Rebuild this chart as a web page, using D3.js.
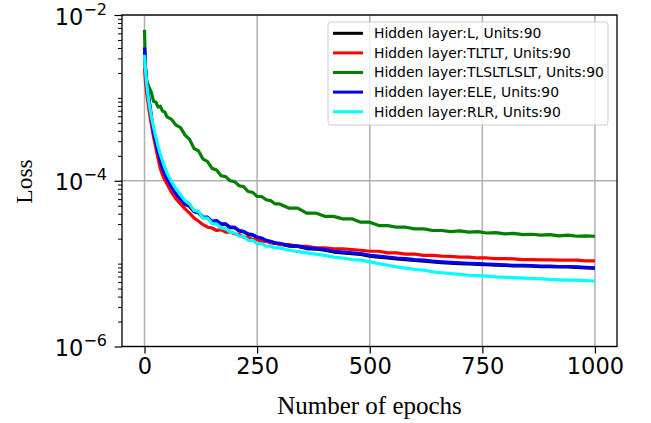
<!DOCTYPE html>
<html>
<head>
<meta charset="utf-8">
<script src="https://cdn.jsdelivr.net/npm/d3@7"></script>
<style>
  body { margin: 0; background: #fff; }
  svg { display: block; }
</style>
</head>
<body>
<svg id="chart"></svg>
<script>
// epochs shared by every series
var epochs = [0, 2, 5, 10, 15, 20, 25, 30, 35, 40, 45, 50,
  60, 70, 80, 90, 100, 110, 120, 130, 140, 150, 160, 170, 180, 190, 200,
  210, 220, 230, 240, 250, 260, 270, 280, 290, 300,
  320, 340, 360, 380, 400, 420, 440, 460, 480, 500,
  520, 540, 560, 580, 600, 620, 640, 660, 680, 700,
  720, 740, 760, 780, 800, 820, 840, 860, 880, 900,
  920, 940, 960, 980, 1000];

var lossL = [4.0e-3, 2.38e-3, 1.5e-3, 9.4e-4, 5.95e-4, 3.85e-4, 2.92e-4, 2.21e-4, 1.72e-4, 1.39e-4, 1.19e-4, 1.04e-4,
  8.4e-5, 6.85e-5, 5.95e-5, 5.2e-5, 4.9e-5, 4.22e-5, 4.1e-5, 3.6e-5, 3.58e-5, 3.2e-5, 3.27e-5, 2.99e-5, 2.98e-5, 2.72e-5, 2.72e-5,
  2.48e-5, 2.42e-5, 2.26e-5, 2.21e-5, 2.06e-5, 2.01e-5, 1.88e-5, 1.83e-5, 1.75e-5, 1.73e-5,
  1.63e-5, 1.61e-5, 1.52e-5, 1.5e-5, 1.45e-5, 1.38e-5, 1.35e-5, 1.32e-5, 1.29e-5, 1.23e-5,
  1.2e-5, 1.17e-5, 1.14e-5, 1.12e-5, 1.09e-5, 1.07e-5, 1.05e-5, 1.03e-5, 1.015e-5, 1.0e-5,
  9.9e-6, 9.8e-6, 9.7e-6, 9.6e-6, 9.5e-6, 9.4e-6, 9.4e-6, 9.3e-6, 9.2e-6, 9.2e-6,
  9.1e-6, 9.1e-6, 9.0e-6, 8.9e-6, 8.8e-6];

var lossTLTLT = [2.29e-3, 1.58e-3, 1.12e-3, 7.08e-4, 4.79e-4, 3.39e-4, 2.51e-4, 1.86e-4, 1.41e-4, 1.17e-4, 1.02e-4, 9.12e-5,
  7.24e-5, 6.03e-5, 5.25e-5, 4.57e-5, 4.07e-5, 3.55e-5, 3.24e-5, 2.95e-5, 2.75e-5, 2.69e-5, 2.51e-5, 2.57e-5, 2.4e-5, 2.4e-5, 2.29e-5,
  2.24e-5, 2.09e-5, 2.09e-5, 1.95e-5, 1.95e-5, 1.86e-5, 1.86e-5, 1.78e-5, 1.78e-5, 1.7e-5,
  1.7e-5, 1.62e-5, 1.62e-5, 1.55e-5, 1.55e-5, 1.51e-5, 1.51e-5, 1.48e-5, 1.45e-5, 1.41e-5,
  1.41e-5, 1.35e-5, 1.35e-5, 1.3e-5, 1.3e-5, 1.26e-5, 1.26e-5, 1.23e-5, 1.22e-5, 1.2e-5,
  1.2e-5, 1.17e-5, 1.17e-5, 1.15e-5, 1.15e-5, 1.14e-5, 1.12e-5, 1.12e-5, 1.11e-5, 1.11e-5,
  1.1e-5, 1.1e-5, 1.1e-5, 1.08e-5, 1.08e-5];

var lossTLSLTLSLT = [6.61e-3, 2.19e-3, 1.58e-3, 1.35e-3, 1.17e-3, 9.12e-4, 8.91e-4, 7.76e-4, 7.94e-4, 6.92e-4, 6.76e-4, 5.89e-4,
  5.5e-4, 4.68e-4, 4.37e-4, 3.55e-4, 3.16e-4, 2.45e-4, 2.29e-4, 1.82e-4, 1.7e-4, 1.41e-4, 1.35e-4, 1.15e-4, 1.12e-4, 1.0e-4, 9.77e-5,
  8.71e-5, 8.51e-5, 7.41e-5, 7.24e-5, 6.46e-5, 6.46e-5, 5.89e-5, 5.75e-5, 5.25e-5, 5.25e-5,
  4.68e-5, 4.68e-5, 4.07e-5, 4.07e-5, 3.72e-5, 3.72e-5, 3.47e-5, 3.47e-5, 3.16e-5, 3.16e-5,
  2.88e-5, 2.88e-5, 2.75e-5, 2.75e-5, 2.63e-5, 2.63e-5, 2.51e-5, 2.51e-5, 2.43e-5, 2.48e-5,
  2.4e-5, 2.43e-5, 2.34e-5, 2.37e-5, 2.29e-5, 2.32e-5, 2.24e-5, 2.26e-5, 2.21e-5, 2.24e-5,
  2.16e-5, 2.21e-5, 2.14e-5, 2.16e-5, 2.14e-5];

var lossELE = [4.07e-3, 2.4e-3, 1.51e-3, 9.55e-4, 6.03e-4, 3.89e-4, 2.95e-4, 2.24e-4, 1.74e-4, 1.41e-4, 1.2e-4, 1.05e-4,
  8.51e-5, 6.92e-5, 6.03e-5, 5.25e-5, 5.01e-5, 4.27e-5, 4.17e-5, 3.63e-5, 3.63e-5, 3.24e-5, 3.31e-5, 3.02e-5, 3.02e-5, 2.75e-5, 2.75e-5,
  2.51e-5, 2.45e-5, 2.29e-5, 2.24e-5, 2.09e-5, 2.04e-5, 1.91e-5, 1.86e-5, 1.78e-5, 1.76e-5,
  1.66e-5, 1.64e-5, 1.55e-5, 1.53e-5, 1.48e-5, 1.41e-5, 1.38e-5, 1.35e-5, 1.32e-5, 1.26e-5,
  1.23e-5, 1.2e-5, 1.17e-5, 1.15e-5, 1.12e-5, 1.1e-5, 1.07e-5, 1.05e-5, 1.035e-5, 1.02e-5,
  1.01e-5, 1.0e-5, 9.89e-6, 9.77e-6, 9.66e-6, 9.55e-6, 9.55e-6, 9.44e-6, 9.33e-6, 9.33e-6,
  9.23e-6, 9.23e-6, 9.12e-6, 9.02e-6, 8.91e-6];

var lossRLR = [3.31e-3, 2.24e-3, 1.45e-3, 8.71e-4, 6.03e-4, 4.47e-4, 3.39e-4, 2.63e-4, 2.09e-4, 1.74e-4, 1.45e-4, 1.23e-4,
  9.77e-5, 7.94e-5, 6.76e-5, 5.75e-5, 5.25e-5, 4.37e-5, 4.27e-5, 3.55e-5, 3.55e-5, 3.02e-5, 3.02e-5, 2.69e-5, 2.63e-5, 2.4e-5, 2.34e-5,
  2.14e-5, 2.14e-5, 1.91e-5, 1.91e-5, 1.74e-5, 1.74e-5, 1.62e-5, 1.62e-5, 1.55e-5, 1.55e-5,
  1.45e-5, 1.4e-5, 1.35e-5, 1.3e-5, 1.26e-5, 1.2e-5, 1.17e-5, 1.12e-5, 1.1e-5, 1.05e-5,
  1.0e-5, 9.55e-6, 9.12e-6, 8.81e-6, 8.51e-6, 8.32e-6, 7.94e-6, 7.76e-6, 7.59e-6, 7.41e-6,
  7.24e-6, 7.16e-6, 7.08e-6, 6.92e-6, 6.84e-6, 6.76e-6, 6.68e-6, 6.61e-6, 6.53e-6, 6.46e-6,
  6.38e-6, 6.31e-6, 6.31e-6, 6.24e-6, 6.17e-6];

var seriesNames = ["Hidden layer:L, Units:90", "Hidden layer:TLTLT, Units:90",
  "Hidden layer:TLSLTLSLT, Units:90", "Hidden layer:ELE, Units:90", "Hidden layer:RLR, Units:90"];
var seriesValues = [lossL, lossTLTLT, lossTLSLTLSLT, lossELE, lossRLR];
var seriesColors = ["#000000", "#ff0000", "#008000", "#0000ff", "#00ffff"];

var xTicks = [0, 250, 500, 750, 1000];
var yTicks = [1e-6, 1e-4, 1e-2];
var yTickExp = ["\u22126", "\u22124", "\u22122"];

//define bounds
var width = 651, height = 423;
var plot = {left: 122, right: 617, top: 15, bottom: 346.5};

var svg = d3.select("#chart")
    .attr("width", width)
    .attr("height", height);

var x = d3.scaleLinear().domain([-50, 1049]).range([plot.left, plot.right]);
var y = d3.scaleLog().domain([1e-6, 1e-2]).range([plot.bottom, plot.top]);

var gridColor = "#b0b0b0";

//grid
svg.append("g").selectAll("line")
    .data(xTicks)
    .enter().append("line")
    .attr("x1", d => x(d)).attr("x2", d => x(d))
    .attr("y1", plot.top).attr("y2", plot.bottom)
    .attr("stroke", gridColor).attr("stroke-width", 1.5);
svg.append("g").selectAll("line")
    .data(yTicks)
    .enter().append("line")
    .attr("x1", plot.left).attr("x2", plot.right)
    .attr("y1", d => y(d)).attr("y2", d => y(d))
    .attr("stroke", gridColor).attr("stroke-width", 1.5);

//lines
var line = d3.line()
    .x((d, i) => x(epochs[i]))
    .y(d => y(d));

svg.append("g").selectAll("path")
    .data(seriesValues)
    .enter().append("path")
    .attr("d", d => line(d))
    .attr("fill", "none")
    .attr("stroke", (d, i) => seriesColors[i])
    .attr("stroke-width", 3.2)
    .attr("stroke-linejoin", "round");

//axes
var xAxis = d3.axisBottom(x).tickValues(xTicks).tickSize(7).tickPadding(5).tickFormat(d3.format("d"));
var gx = svg.append("g")
    .attr("transform", "translate(0," + plot.bottom + ")")
    .call(xAxis);
gx.select(".domain").remove();
gx.selectAll("line").attr("stroke", "#000").attr("stroke-width", 1.2);
gx.selectAll("text")
    .attr("fill", "#000")
    .style("font-family", "DejaVu Sans")
    .style("font-size", "22.5px");

// minor ticks on log axis
var minorTicks = [];
[1e-6, 1e-5, 1e-4, 1e-3].forEach(function (p) {
  for (var k = 2; k <= 9; k++) minorTicks.push(k * p);
});
minorTicks.push(1e-5, 1e-3);

var yAxisMinor = d3.axisLeft(y).tickValues(minorTicks).tickSize(4).tickFormat("");
var gyMinor = svg.append("g")
    .attr("transform", "translate(" + plot.left + ",0)")
    .call(yAxisMinor);
gyMinor.select(".domain").remove();
gyMinor.selectAll("line").attr("stroke", "#000").attr("stroke-width", 1);

var yAxis = d3.axisLeft(y).tickValues(yTicks).tickSize(7.5).tickFormat("");
var gy = svg.append("g")
    .attr("transform", "translate(" + plot.left + ",0)")
    .call(yAxis);
gy.select(".domain").remove();
gy.selectAll("line").attr("stroke", "#000").attr("stroke-width", 1.2);

var yLabels = svg.append("g").selectAll("text")
    .data(yTicks)
    .enter().append("text")
    .attr("x", plot.left - 15)
    .attr("y", d => y(d) + 9.5)
    .attr("text-anchor", "end")
    .style("font-family", "DejaVu Sans")
    .style("font-size", "22.5px")
    .attr("fill", "#000");
yLabels.append("tspan").text("10");
yLabels.append("tspan")
    .attr("dy", -10)
    .style("font-size", "16px")
    .text((d, i) => yTickExp[i]);

//frame
svg.append("rect")
    .attr("x", plot.left).attr("y", plot.top)
    .attr("width", plot.right - plot.left)
    .attr("height", plot.bottom - plot.top)
    .attr("fill", "none")
    .attr("stroke", "#000")
    .attr("stroke-width", 1.3);

//legend
var legend = svg.append("g");
legend.append("rect")
    .attr("x", 328).attr("y", 22)
    .attr("width", 280).attr("height", 103)
    .attr("rx", 3)
    .attr("fill", "#fff").attr("fill-opacity", 0.8)
    .attr("stroke", "#cccccc");

var rows = legend.selectAll("g.row")
    .data(seriesNames)
    .enter().append("g")
    .attr("class", "row")
    .attr("transform", (d, i) => "translate(0," + (33.3 + i * 19.6) + ")");
rows.append("line")
    .attr("x1", 333).attr("x2", 363)
    .attr("stroke", (d, i) => seriesColors[i])
    .attr("stroke-width", 3);
rows.append("text")
    .attr("x", 374)
    .attr("dy", "0.35em")
    .style("font-family", "DejaVu Sans")
    .style("font-size", "13.9px")
    .attr("fill", "#000")
    .text(d => d);

//axis labels
svg.append("text")
    .attr("x", (plot.left + plot.right) / 2)
    .attr("y", 414)
    .attr("text-anchor", "middle")
    .style("font-family", "Liberation Serif")
    .style("font-size", "25px")
    .text("Number of epochs");

svg.append("text")
    .attr("transform", "translate(32,181.5) rotate(-90)")
    .attr("text-anchor", "middle")
    .style("font-family", "Liberation Serif")
    .style("font-size", "23.5px")
    .text("Loss");
</script>
</body>
</html>
